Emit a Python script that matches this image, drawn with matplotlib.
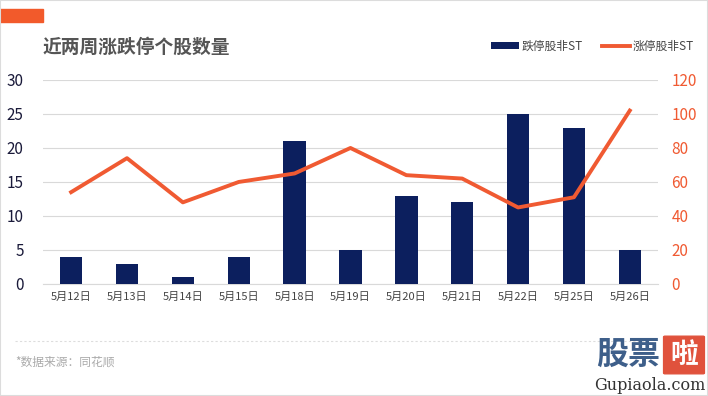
import matplotlib
matplotlib.use("Agg")
import matplotlib.pyplot as plt
from matplotlib.patches import Rectangle, FancyBboxPatch
import numpy as np

plt.rcParams["font.family"] = ["Noto Sans CJK SC", "DejaVu Sans"]

dates = ["5月12日", "5月13日", "5月14日", "5月15日", "5月18日", "5月19日",
         "5月20日", "5月21日", "5月22日", "5月25日", "5月26日"]
limit_down = [4, 3, 1, 4, 21, 5, 13, 12, 25, 23, 5]
limit_up = [54, 74, 48, 60, 65, 80, 64, 62, 45, 51, 102]
left_ticks = [0, 5, 10, 15, 20, 25, 30]
right_ticks = [0, 20, 40, 60, 80, 100, 120]

navy = "#0c1f5e"
orange = "#f05a32"

fig = plt.figure(figsize=(7.08, 3.96), dpi=100)
ax = fig.add_axes([0.061, 0.283, 0.868, 0.515])
ax2 = ax.twinx()

x = np.arange(len(dates))
ax.bar(x, limit_down, width=0.4, color=navy, zorder=3, label="跌停股非ST")
ax2.plot(x, limit_up, color=orange, lw=2.8, zorder=4, label="涨停股非ST")

ax.set_xlim(-0.5, len(dates) - 0.5)
ax.set_ylim(0, 30)
ax2.set_ylim(0, 120)
ax.set_yticks(left_ticks)
ax2.set_yticks(right_ticks)
ax.set_xticks(x)
ax.set_xticklabels(dates, fontsize=8, color="#444444")
ax.grid(axis="y", color="#d9d9d9", lw=0.8, zorder=0)
ax.set_axisbelow(True)
for a in (ax, ax2):
    for s in a.spines.values():
        s.set_visible(False)
ax.spines["bottom"].set_visible(True)
ax.spines["bottom"].set_color("#d9d9d9")
ax.tick_params(axis="y", length=0, labelsize=11, labelcolor="#1a1a3a", pad=14)
ax2.tick_params(axis="y", length=0, labelsize=11, labelcolor=orange, pad=10)
ax.tick_params(axis="x", length=0, pad=6)

# header
fig.patches.append(Rectangle((0, 1 - 22 / 396), 43 / 708, 13 / 396,
                             transform=fig.transFigure, color="#f25a2b"))
fig.text(43 / 708, 1 - 47 / 396, "近两周涨跌停个股数量", fontsize=13.5,
         fontweight="bold", color="#555555", va="center")

# legend
h1, l1 = ax.get_legend_handles_labels()
h2, l2 = ax2.get_legend_handles_labels()
fig.legend(h1 + h2, l1 + l2, loc="center right", bbox_to_anchor=(0.995, 1 - 46 / 396),
           ncol=2, frameon=False, fontsize=8.5, labelcolor="#444444",
           handlelength=2.4, handleheight=0.5, columnspacing=1.6, handletextpad=0.2)

# footer
fig.add_artist(plt.Line2D([15 / 708, 650 / 708], [1 - 341 / 396] * 2,
                          transform=fig.transFigure, color="#dddddd",
                          lw=0.8, ls=(0, (2, 2))))
fig.text(15 / 708, 1 - 362 / 396, "*数据来源：同花顺", fontsize=8.5,
         color="#aaaaaa", va="center")

# watermark
fig.text(596 / 708, 1 - 355 / 396, "股票", fontsize=23, fontweight="bold",
         color="#3e5f8a", va="center")
fig.patches.append(FancyBboxPatch((665 / 708, 1 - 373 / 396), 38 / 708, 36 / 396,
                                  boxstyle="round,pad=0.002", transform=fig.transFigure,
                                  color="#e0523c"))
fig.text(684 / 708, 1 - 355 / 396, "啦", fontsize=20, fontweight="bold",
         color="white", va="center", ha="center")
fig.text(650 / 708, 1 - 385 / 396, "Gupiaola.com", fontsize=11.5,
         family="DejaVu Serif", color="#333333", va="center", ha="center")

# frame
fig.patches.append(Rectangle((0, 0), 1, 1, transform=fig.transFigure,
                             fill=False, ec="#dcdcdc", lw=1.5))

fig.savefig("out.png", dpi=100)
